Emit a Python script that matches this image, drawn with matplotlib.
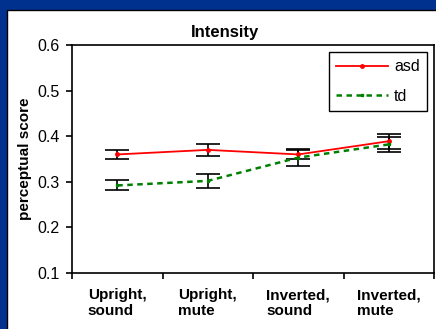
import numpy as np
import matplotlib
matplotlib.use("Agg")
import matplotlib.pyplot as plt
from matplotlib.patches import Rectangle

plt.rcParams['font.family'] = ['Liberation Sans', 'DejaVu Sans']

# values
conditions = ["Upright,\nsound", "Upright,\nmute", "Inverted,\nsound", "Inverted,\nmute"]
asd_mean = [0.360, 0.370, 0.360, 0.389]
asd_err = [0.010, 0.013, 0.010, 0.016]
td_mean = [0.292, 0.302, 0.353, 0.382]
td_err = [0.011, 0.015, 0.018, 0.017]

fig = plt.figure(figsize=(4.36, 3.29), dpi=100, facecolor='#00318f')
# white slide panel with a thin black edge
fig.patches.append(Rectangle((6.5 / 436, -0.1), 1.2, (329 - 9.5) / 329 + 0.1,
                             transform=fig.transFigure, facecolor='white',
                             edgecolor='black', lw=1, zorder=-5))

ax = fig.add_axes([72 / 436, (329 - 273) / 329, (434 - 72) / 436, (273 - 45) / 329])
ax.set_zorder(2)
x = np.arange(len(conditions))

ax.errorbar(x, asd_mean, yerr=asd_err, fmt='none', ecolor='black',
            elinewidth=1.2, capsize=8.5, capthick=1.2, zorder=2)
ax.errorbar(x, td_mean, yerr=td_err, fmt='none', ecolor='black',
            elinewidth=1.2, capsize=8.5, capthick=1.2, zorder=2)
ax.plot(x, asd_mean, color='red', lw=1.3, marker='o', ms=2.5, label='asd', zorder=3)
ax.plot(x, td_mean, color='#008000', lw=1.8, ls=(0, (2.2, 1.8)), marker='s', ms=2,
        label='td', zorder=3)

ax.set_xlim(-0.5, 3.5)
ax.set_ylim(0.1, 0.6)
ax.set_yticks([0.1, 0.2, 0.3, 0.4, 0.5, 0.6])
ax.set_yticklabels(['0.1', '0.2', '0.3', '0.4', '0.5', '0.6'], fontsize=11.5)
ax.set_xticks(np.arange(-0.5, 4, 1))
ax.set_xticklabels([])
ax.set_xticks(x, minor=True)
ax.set_xticklabels(conditions, minor=True, fontsize=11, fontweight='bold',
                   multialignment='left')
ax.tick_params(axis='x', which='minor', length=0, pad=11)
ax.tick_params(axis='both', which='major', length=4, width=1.2, direction='out')
ax.tick_params(axis='y', pad=5)
for s in ax.spines.values():
    s.set_linewidth(1.2)

ax.set_ylabel('perceptual score', fontsize=11, fontweight='bold', labelpad=4)
fig.text(225 / 436, 1 - 32 / 329, 'Intensity', ha='center', va='center',
         fontsize=12, fontweight='bold')

leg = ax.legend(loc='upper right', bbox_to_anchor=(1 - 7 / 362, 1 - 7 / 228),
                borderaxespad=0, fontsize=11.5, handlelength=3.3,
                fancybox=False, framealpha=1, edgecolor='black',
                borderpad=0.45, labelspacing=0.9, handletextpad=0.35)
leg.get_frame().set_linewidth(1.0)

fig.savefig('out.png', dpi=100, facecolor=fig.get_facecolor())
